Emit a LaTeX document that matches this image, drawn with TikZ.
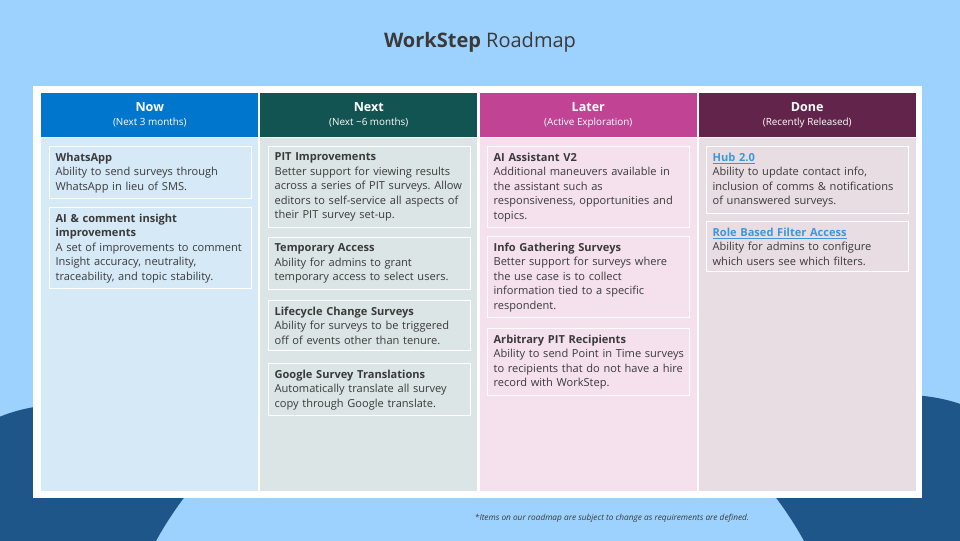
\documentclass[tikz,border=0pt]{standalone}
\usepackage{fontspec}
\setmainfont{Open Sans}
\frenchspacing
\hyphenpenalty=10000
\definecolor{bg}{HTML}{9DD2FE}
\definecolor{dk}{HTML}{1F568A}
\definecolor{hnow}{HTML}{0077CC}\definecolor{bnow}{HTML}{D6E9F7}
\definecolor{hnext}{HTML}{125452}\definecolor{bnext}{HTML}{DCE5E6}
\definecolor{hlater}{HTML}{C04394}\definecolor{blater}{HTML}{F5E1EE}
\definecolor{hdone}{HTML}{63244B}\definecolor{bdone}{HTML}{E8DDE2}
\definecolor{txt}{HTML}{3A3A3A}\definecolor{lnk}{HTML}{3C97DA}
\tikzset{
 hdr/.style={minimum width=217*0.75pt,minimum height=44*0.75pt,anchor=north west,inner sep=0pt,text=white,align=center,font=\fontsize{9.4}{10}\selectfont\bfseries},
 col/.style={anchor=north west,minimum width=217*0.75pt,inner sep=0pt},
 card/.style={anchor=north west,draw=white,line width=0.9pt,text width=190*0.75pt,inner xsep=6*0.75pt,inner ysep=6*0.75pt,align=left,text=txt,font=\fontsize{8.3}{10.9}\selectfont},
}
\newcommand{\cardtitle}[1]{{\bfseries #1}\\}
\newcommand{\lnktitle}[1]{{\bfseries\color{lnk}\underline{#1}}\\}
\begin{document}
\begin{tikzpicture}[x=0.75pt,y=-0.75pt]
\fill[bg] (0,0) rectangle (960,540);
\begin{scope}
\clip (0,0) rectangle (960,540);
\fill[dk] (60,565) circle[radius=160];
\fill[dk] (905,570) circle[radius=175];
\fill[bg] (480,720) circle[radius=370];
\end{scope}
\node (title) at (480,42) {\fontsize{15}{18}\selectfont\color{txt}\textbf{WorkStep} Roadmap};
\fill[white] (33,86) rectangle (922,498);
\node[col,fill=bnow,minimum height=353*0.75pt] (cnow) at (41,138) {};
\node[col,fill=bnext,minimum height=353*0.75pt] (cnext) at (260,138) {};
\node[col,fill=blater,minimum height=353*0.75pt] (clater) at (479.5,138) {};
\node[col,fill=bdone,minimum height=353*0.75pt] (cdone) at (698.5,138) {};
\node[hdr,fill=hnow] (hnow) at (41,93) {Now\\[0.5pt]{\fontsize{7.4}{8}\selectfont\mdseries(Next 3 months)}};
\node[hdr,fill=hnext] (hnext) at (260,93) {Next\\[0.5pt]{\fontsize{7.4}{8}\selectfont\mdseries(Next \textasciitilde6 months)}};
\node[hdr,fill=hlater] (hlater) at (479.5,93) {Later\\[0.5pt]{\fontsize{7.4}{8}\selectfont\mdseries(Active Exploration)}};
\node[hdr,fill=hdone] (hdone) at (698.5,93) {Done\\[0.5pt]{\fontsize{7.4}{8}\selectfont\mdseries(Recently Released)}};
% Now
\node[card] (n1) at (49,146) {\cardtitle{WhatsApp}Ability to send surveys through\\WhatsApp in lieu of SMS.\\[-4pt]};
\node[card] (n2) at (49,207) {\cardtitle{AI \& comment insight}\cardtitle{improvements}A set of improvements to comment\\Insight accuracy, neutrality,\\traceability, and topic stability.\\[-4pt]};
% Next
\node[card] (x1) at (268,146) {\cardtitle{PIT Improvements}Better support for viewing results\\across a series of PIT surveys. Allow\\editors to self-service all aspects of\\their PIT survey set-up.\\[-4pt]};
\node[card] (x2) at (268,237) {\cardtitle{Temporary Access}Ability for admins to grant\\temporary access to select users.\\[-4pt]};
\node[card] (x3) at (268,300) {\cardtitle{Lifecycle Change Surveys}Ability for surveys to be triggered\\off of events other than tenure.\\[-4pt]};
\node[card] (x4) at (268,363) {\cardtitle{Google Survey Translations}Automatically translate all survey\\copy through Google translate.\\[-4pt]};
% Later
\node[card] (l1) at (487,146) {\cardtitle{AI Assistant V2}Additional maneuvers available in\\the assistant such as\\responsiveness, opportunities and\\topics.\\[-4pt]};
\node[card] (l2) at (487,236) {\cardtitle{Info Gathering Surveys}Better support for surveys where\\the use case is to collect\\information tied to a specific\\respondent.\\[-4pt]};
\node[card] (l3) at (487,328) {\cardtitle{Arbitrary PIT Recipients}\mbox{Ability to send Point in Time surveys}\\to recipients that do not have a hire\\record with WorkStep.\\[-4pt]};
% Done
\node[card] (d1) at (706,146) {\lnktitle{Hub 2.0}Ability to update contact info,\\inclusion of comms \& notifications\\of unanswered surveys.\\[-4pt]};
\node[card] (d2) at (706,221) {\lnktitle{Role Based Filter Access}Ability for admins to configure\\which users see which filters.\\[-4pt]};
\node (foot) at (612,518) {\fontsize{6.2}{7}\selectfont\itshape\color{txt}*Items on our roadmap are subject to change as requirements are defined.};
\end{tikzpicture}
\end{document}
